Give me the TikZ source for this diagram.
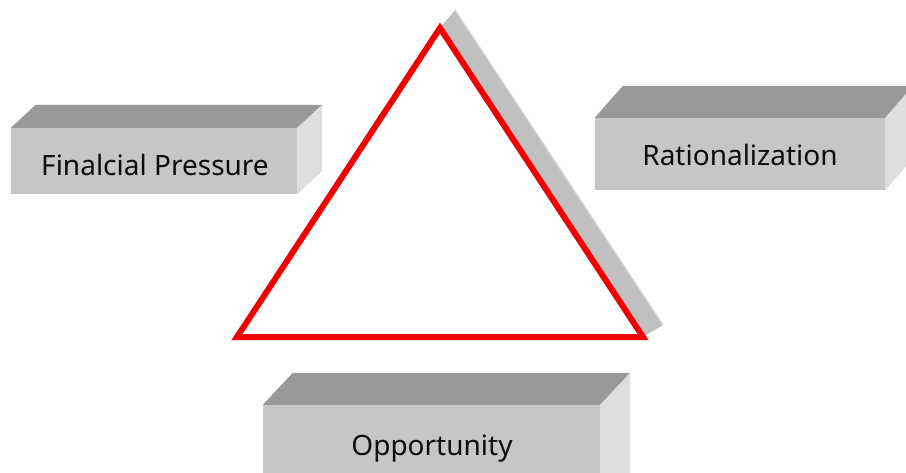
\documentclass[tikz,border=0pt]{standalone}
\usepackage{fontspec}
\setmainfont{Noto Sans}
\usetikzlibrary{calc}
\definecolor{facefront}{HTML}{C6C6C6}
\definecolor{facetop}{HTML}{999999}
\definecolor{faceside}{HTML}{DEDEDE}
\definecolor{shadowgray}{HTML}{C0C0C0}
\definecolor{shadowedge}{HTML}{D6D6D6}
\definecolor{trired}{HTML}{F20000}
\begin{document}
\begin{tikzpicture}[x=1pt,y=-1pt,
  front/.style={rectangle,fill=facefront,draw=none,inner sep=0pt},
  boxtext/.style={font=\fontsize{28}{32}\selectfont,text=black!95,anchor=base,inner sep=0pt},
  topface/.style={fill=facetop,draw=none},
  sideface/.style={fill=faceside,draw=none}]
\useasboundingbox (0,0) rectangle (906,472);
\clip (0,0) rectangle (906,472);

% 3-D block: front face node, then the top and right faces
\newcommand{\blockfaces}[4]{% node, dx, dy, face height
  \fill[topface] (#1.north west) -- ++(#2,#3) -- ($(#1.north east)+(#2,#3)$) -- (#1.north east) -- cycle;
  \fill[sideface] (#1.north east) -- ++(#2,#3) -- ++(0,#4) -- (#1.south east) -- cycle;
}

% Financial pressure block
\node[front,minimum width=286pt,minimum height=66pt] (fp) at (154,161) {};
\blockfaces{fp}{25}{-23}{66}
\node[boxtext] (fptext) at (155,175) {Finalcial Pressure};

% Rationalization block
\node[front,minimum width=290pt,minimum height=72pt] (rat) at (740,154) {};
\blockfaces{rat}{28}{-32}{72}
\node[boxtext] (rattext) at (740,165) {Rationalization};

% Opportunity block
\node[front,minimum width=337pt,minimum height=100pt] (opp) at (431.5,455) {};
\blockfaces{opp}{30}{-32}{100}
\node[boxtext] (opptext) at (432,455) {Opportunity};

% Triangle with its shadow band
\coordinate (apex) at (440,28);
\coordinate (bl) at (237,337);
\coordinate (br) at (643,337);
\coordinate (sapex) at (455,10);
\coordinate (sbr) at (663,325);
\fill[shadowgray] (apex) -- (sapex) -- (sbr) -- (br) -- cycle;
\draw[shadowedge,line width=1.2pt] (sapex) -- (sbr);
\draw[trired,line width=6pt,line join=miter] (apex) -- (br) -- (bl) -- cycle;
\end{tikzpicture}
\end{document}
